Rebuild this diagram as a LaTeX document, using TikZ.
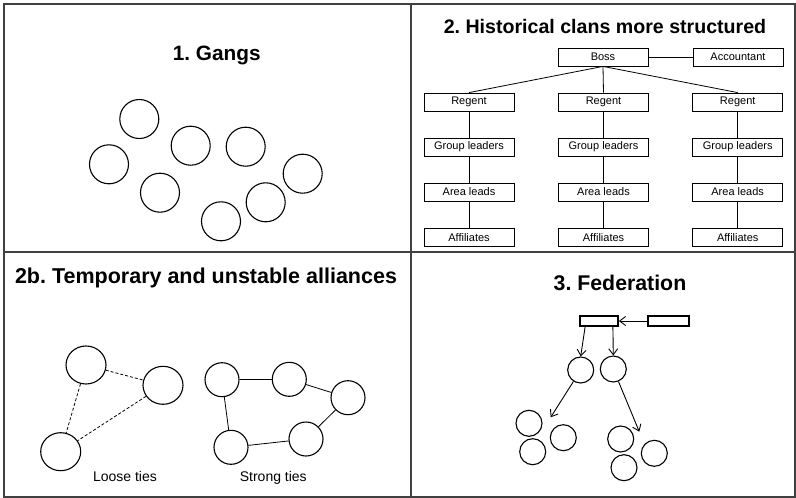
\documentclass[tikz,border=0pt]{standalone}
\usepackage{fontspec}
\setmainfont{Liberation Sans}
\usetikzlibrary{arrows.meta,shapes.geometric}
\frenchspacing
\begin{document}
\begin{tikzpicture}[x=1pt,y=-1pt,
  frame/.style={draw=black!75,line width=1.3pt},
  title/.style={font=\bfseries\fontsize{#1}{24}\selectfont,anchor=base,inner sep=0pt},
  gang/.style={circle,draw,line width=1.1pt,minimum size=39pt,inner sep=0pt},
  ally/.style={ellipse,draw,line width=1.1pt,minimum width=40pt,minimum height=38pt,inner sep=0pt},
  tie/.style={circle,draw,line width=1.1pt,minimum size=34pt,inner sep=0pt},
  cell/.style={circle,draw,line width=1.1pt,minimum size=26pt,inner sep=0pt},
  rank/.style={rectangle,draw,line width=0.8pt,minimum width=90pt,minimum height=18pt,inner sep=0pt,
    font=\fontsize{11}{13}\selectfont},
  bar/.style={rectangle,draw,line width=1.8pt,minimum height=10pt,inner sep=0pt},
  link/.style={line width=0.8pt},
  loose/.style={line width=0.8pt,dash pattern=on 3pt off 2pt},
  feed/.style={line width=0.9pt,-{Straight Barb[length=6pt,width=9pt]}},
  caption/.style={font=\fontsize{14}{16}\selectfont,anchor=base,inner sep=0pt}]
\useasboundingbox (0,0) rectangle (796,498);
% panel frames
\draw[frame] (4,4) rectangle (795,497);
\draw[frame] (411,4) -- (411,497);
\draw[frame] (4,252) -- (795,252);

% 1. Gangs
\node[title=20.8] (t1) at (216.7,60) {1. Gangs};
\node[gang] (g1) at (139.3,119) {};
\node[gang] (g2) at (190.7,145.7) {};
\node[gang] (g3) at (245.7,146.7) {};
\node[gang] (g4) at (109,164.3) {};
\node[gang] (g5) at (302.7,173.7) {};
\node[gang] (g6) at (160,192.7) {};
\node[gang] (g7) at (265.7,202.3) {};
\node[gang] (g8) at (221,221.3) {};

% 2. Historical clans
\node[title=19.6] (t2) at (605,33) {2. Historical clans more structured};
\node[rank] (boss) at (603,57) {Boss};
\node[rank] (acct) at (738,57) {Accountant};
\draw[link] (boss) -- (acct);
\foreach \c/\x in {a/469,b/603.5,c/737.7}{
  \node[rank] (reg\c) at (\x,102) {Regent};
  \node[rank] (grp\c) at (\x,147) {Group leaders};
  \node[rank] (area\c) at (\x,192) {Area leads};
  \node[rank] (aff\c) at (\x,237.5) {Affiliates};
  \draw[link] (boss.south) -- (reg\c.north);
  \draw[link] (reg\c) -- (grp\c);
  \draw[link] (grp\c) -- (area\c);
  \draw[link] (area\c) -- (aff\c);
}

% 2b. Alliances
\node[title=21.5] (t3) at (206,283) {2b. Temporary and unstable alliances};
\node[ally] (l1) at (86,365) {};
\node[ally] (l2) at (163,385.3) {};
\node[ally] (l3) at (60.7,451.7) {};
\draw[loose] (l1) -- (l2);
\draw[loose] (l1) -- (l3);
\draw[loose] (l2) -- (l3);
\node[tie] (s1) at (222,379.7) {};
\node[tie] (s2) at (289.3,379.3) {};
\node[tie] (s3) at (348,397.7) {};
\node[tie] (s4) at (231,447.3) {};
\node[tie] (s5) at (306,439) {};
\draw[link] (s1) -- (s2) -- (s3);
\draw[link] (s3) -- (s5);
\draw[link] (s5) -- (s4);
\draw[link] (s4) -- (s1);
\node[caption] (cl) at (125,481) {Loose ties};
\node[caption] (cs) at (273.3,481) {Strong ties};

% 3. Federation
\node[title=21.3] (t4) at (620,290) {3. Federation};
\node[bar,minimum width=38pt] (top) at (599,321) {};
\node[bar,minimum width=41pt] (side) at (668.5,321) {};
\draw[feed] (side) -- (top);
\node[cell] (c1) at (580.7,370) {};
\node[cell] (c2) at (613.3,369) {};
\draw[feed] ([xshift=6pt]top.south west) -- (c1.north);
\draw[feed] ([xshift=-6pt]top.south east) -- (c2.north);
\coordinate (endl) at (550.7,417.3);
\coordinate (endr) at (639.3,431.7);
\draw[feed] (c1) -- (endl);
\draw[feed] (c2) -- (endr);
\node[cell] (la) at (529,423.3) {};
\node[cell] (lb) at (532.7,451.7) {};
\node[cell] (lc) at (563.3,437.7) {};
\node[cell] (ra) at (620.7,439) {};
\node[cell] (rb) at (624,467.7) {};
\node[cell] (rc) at (654.3,453.3) {};
\end{tikzpicture}
\end{document}
